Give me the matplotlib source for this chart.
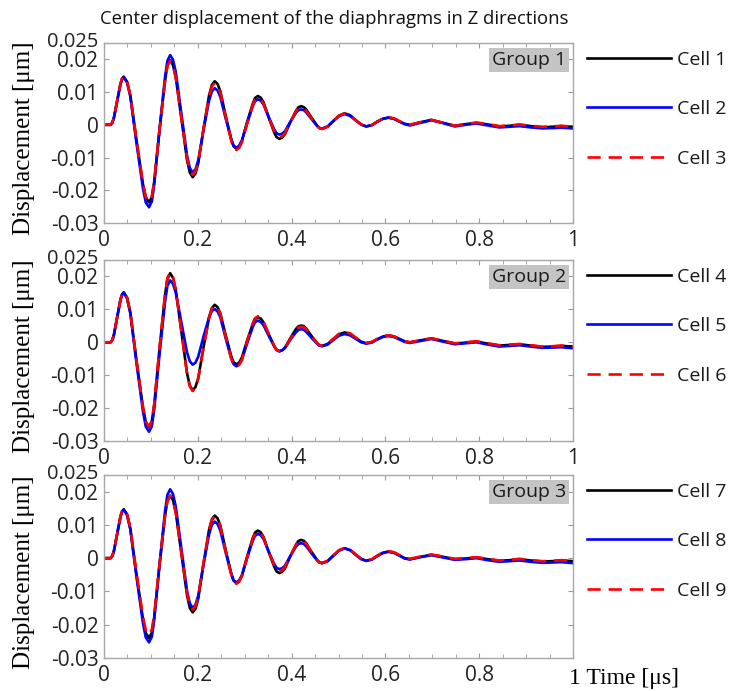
import matplotlib

matplotlib.use("Agg")
import matplotlib.pyplot as plt
from matplotlib.ticker import MultipleLocator
from matplotlib.transforms import ScaledTranslation

# time samples [us] (common to all cells)
time_us = [0, 0.014, 0.0175, 0.021, 0.028, 0.035, 0.0385, 0.042,
           0.049, 0.056, 0.069, 0.083, 0.089, 0.096,
           0.102, 0.107, 0.118, 0.130, 0.135, 0.141,
           0.147, 0.153, 0.165, 0.177, 0.183, 0.189,
           0.195, 0.201, 0.212, 0.224, 0.230, 0.236,
           0.242, 0.248, 0.259, 0.271, 0.276, 0.282,
           0.288, 0.294, 0.305, 0.317, 0.322, 0.328,
           0.334, 0.340, 0.351, 0.363, 0.368, 0.374,
           0.380, 0.386, 0.397, 0.409, 0.414, 0.420,
           0.426, 0.431, 0.442, 0.454, 0.459, 0.465,
           0.477, 0.489, 0.501, 0.513,
           0.525, 0.536, 0.548, 0.559,
           0.571, 0.582, 0.594, 0.606,
           0.618, 0.629, 0.641, 0.652,
           0.675, 0.698, 0.723, 0.748, 0.771, 0.794, 0.818, 0.843,
           0.865, 0.886, 0.910, 0.935, 0.955, 0.975, 1.000]

# centre displacement [um]
cell1 = [0, 0, .0006, .0021, .0073, .0125, .0141, .0147,
         .0132, .0091, -.0045, -.0181, -.0222, -.0237,
         -.0221, -.0174, -.0020, .0134, .0181, .0197,
         .0183, .0145, .0019, -.0108, -.0146, -.0160,
         -.0149, -.0117, -.0014, .0090, .0122, .0133,
         .0125, .0103, .0030, -.0043, -.0065, -.0073,
         -.0067, -.0049, .0008, .0064, .0082, .0088,
         .0083, .0069, .0023, -.0024, -.0038, -.0043,
         -.0039, -.0028, .0007, .0042, .0053, .0057,
         .0054, .0047, .0023, -.0002, -.0009, -.0012,
         -.0005, .0012, .0028, .0035,
         .0029, .0015, .0001, -.0005,
         -.0001, .0009, .0018, .0022,
         .0019, .0011, .0003, .0000,
         .0008, .0015, .0006, -.0003, .0002, .0006, .0001, -.0005,
         -.0003, .0000, -.0004, -.0008, -.0006, -.0004, -.0007]
cell2 = [0, 0, .0006, .0021, .0072, .0123, .0139, .0145,
         .0130, .0087, -.0054, -.0194, -.0237, -.0252,
         -.0234, -.0184, -.0020, .0145, .0195, .0213,
         .0199, .0161, .0034, -.0094, -.0132, -.0146,
         -.0136, -.0108, -.0017, .0074, .0102, .0112,
         .0105, .0085, .0021, -.0043, -.0063, -.0070,
         -.0064, -.0048, .0004, .0056, .0072, .0078,
         .0074, .0062, .0024, -.0014, -.0026, -.0030,
         -.0027, -.0019, .0009, .0036, .0044, .0047,
         .0045, .0038, .0018, -.0003, -.0010, -.0012,
         -.0005, .0011, .0026, .0033,
         .0027, .0014, .0001, -.0005,
         -.0001, .0009, .0018, .0022,
         .0018, .0010, .0002, -.0002,
         .0006, .0014, .0005, -.0005, .0000, .0004, -.0002, -.0008,
         -.0006, -.0004, -.0008, -.0011, -.0010, -.0009, -.0011]
cell3 = [0, 0, .0006, .0021, .0073, .0125, .0141, .0147,
         .0132, .0091, -.0044, -.0179, -.0220, -.0235,
         -.0219, -.0172, -.0020, .0132, .0179, .0195,
         .0182, .0144, .0021, -.0102, -.0140, -.0153,
         -.0142, -.0112, -.0013, .0087, .0117, .0128,
         .0120, .0098, .0026, -.0047, -.0069, -.0077,
         -.0071, -.0054, .0003, .0060, .0077, .0083,
         .0078, .0065, .0023, -.0020, -.0033, -.0038,
         -.0035, -.0025, .0008, .0040, .0050, .0053,
         .0050, .0043, .0020, -.0003, -.0010, -.0013,
         -.0006, .0011, .0028, .0035,
         .0029, .0015, .0001, -.0005,
         -.0001, .0009, .0019, .0023,
         .0020, .0012, .0003, .0000,
         .0008, .0015, .0006, -.0003, .0002, .0007, .0002, -.0004,
         -.0002, .0001, -.0003, -.0006, -.0005, -.0003, -.0006]
cell4 = [0, 0, .0006, .0022, .0076, .0130, .0146, .0152,
         .0136, .0092, -.0053, -.0198, -.0242, -.0258,
         -.0240, -.0190, -.0024, .0142, .0192, .0210,
         .0196, .0158, .0032, -.0094, -.0132, -.0146,
         -.0136, -.0108, -.0016, .0076, .0104, .0114,
         .0107, .0088, .0024, -.0041, -.0060, -.0067,
         -.0062, -.0046, .0005, .0055, .0071, .0076,
         .0072, .0061, .0025, -.0012, -.0023, -.0027,
         -.0024, -.0016, .0012, .0040, .0048, .0051,
         .0049, .0042, .0020, -.0002, -.0009, -.0011,
         -.0005, .0010, .0024, .0030,
         .0025, .0014, .0002, -.0003,
         .0001, .0009, .0017, .0021,
         .0018, .0011, .0003, .0000,
         .0006, .0012, .0004, -.0004, -.0001, .0002, -.0004, -.0010,
         -.0008, -.0006, -.0010, -.0014, -.0013, -.0011, -.0013]
cell5 = [0, 0, .0006, .0022, .0075, .0128, .0144, .0150,
         .0134, .0088, -.0061, -.0210, -.0256, -.0272,
         -.0255, -.0205, -.0042, .0121, .0171, .0188,
         .0178, .0151, .0060, -.0031, -.0058, -.0068,
         -.0062, -.0043, .0017, .0076, .0095, .0101,
         .0094, .0076, .0014, -.0048, -.0066, -.0073,
         -.0068, -.0053, -.0004, .0046, .0061, .0066,
         .0062, .0052, .0020, -.0013, -.0023, -.0027,
         -.0024, -.0017, .0007, .0030, .0037, .0040,
         .0038, .0032, .0014, -.0004, -.0010, -.0012,
         -.0007, .0007, .0020, .0025,
         .0021, .0011, .0000, -.0004,
         -.0001, .0008, .0016, .0019,
         .0016, .0009, .0001, -.0002,
         .0004, .0010, .0002, -.0006, -.0003, .0000, -.0007, -.0013,
         -.0011, -.0009, -.0013, -.0017, -.0016, -.0015, -.0018]
cell6 = [0, 0, .0006, .0022, .0076, .0130, .0146, .0152,
         .0136, .0092, -.0053, -.0197, -.0241, -.0257,
         -.0239, -.0188, -.0022, .0144, .0195, .0213,
         .0199, .0160, .0033, -.0095, -.0134, -.0148,
         -.0138, -.0110, -.0018, .0074, .0102, .0112,
         .0105, .0085, .0019, -.0048, -.0068, -.0075,
         -.0069, -.0053, .0002, .0057, .0073, .0079,
         .0075, .0063, .0026, -.0012, -.0024, -.0028,
         -.0025, -.0017, .0010, .0037, .0045, .0048,
         .0046, .0040, .0019, -.0002, -.0008, -.0010,
         -.0004, .0011, .0026, .0032,
         .0027, .0015, .0003, -.0002,
         .0001, .0010, .0018, .0021,
         .0018, .0011, .0003, .0000,
         .0006, .0012, .0005, -.0003, .0000, .0003, -.0003, -.0009,
         -.0007, -.0005, -.0009, -.0013, -.0012, -.0010, -.0012]
cell7 = [0, 0, .0006, .0021, .0073, .0125, .0141, .0147,
         .0132, .0090, -.0047, -.0183, -.0225, -.0240,
         -.0224, -.0178, -.0026, .0126, .0172, .0188,
         .0175, .0137, .0013, -.0112, -.0150, -.0163,
         -.0152, -.0121, -.0018, .0086, .0117, .0128,
         .0120, .0098, .0027, -.0045, -.0067, -.0075,
         -.0069, -.0052, .0004, .0060, .0077, .0083,
         .0078, .0064, .0019, -.0026, -.0040, -.0045,
         -.0041, -.0030, .0005, .0040, .0051, .0055,
         .0052, .0045, .0020, -.0005, -.0012, -.0015,
         -.0008, .0008, .0023, .0030,
         .0024, .0011, -.0002, -.0008,
         -.0004, .0006, .0016, .0020,
         .0017, .0009, .0000, -.0003,
         .0004, .0010, .0004, -.0003, -.0001, .0002, -.0003, -.0008,
         -.0006, -.0003, -.0007, -.0010, -.0009, -.0007, -.0009]
cell8 = [0, 0, .0006, .0021, .0072, .0123, .0139, .0145,
         .0130, .0087, -.0054, -.0195, -.0238, -.0253,
         -.0236, -.0186, -.0023, .0140, .0190, .0207,
         .0193, .0155, .0029, -.0098, -.0136, -.0150,
         -.0140, -.0112, -.0020, .0072, .0100, .0110,
         .0103, .0083, .0019, -.0046, -.0066, -.0073,
         -.0067, -.0052, .0000, .0052, .0067, .0073,
         .0069, .0058, .0020, -.0018, -.0029, -.0033,
         -.0030, -.0022, .0006, .0034, .0042, .0045,
         .0043, .0036, .0015, -.0006, -.0013, -.0015,
         -.0009, .0007, .0023, .0029,
         .0024, .0011, -.0003, -.0008,
         -.0004, .0006, .0015, .0019,
         .0016, .0008, -.0001, -.0004,
         .0003, .0009, .0002, -.0005, -.0003, .0000, -.0006, -.0011,
         -.0009, -.0007, -.0011, -.0014, -.0013, -.0012, -.0015]
cell9 = [0, 0, .0006, .0021, .0073, .0125, .0141, .0147,
         .0133, .0092, -.0042, -.0175, -.0216, -.0230,
         -.0214, -.0169, -.0022, .0126, .0171, .0187,
         .0174, .0137, .0016, -.0105, -.0142, -.0155,
         -.0144, -.0114, -.0015, .0084, .0114, .0125,
         .0117, .0096, .0024, -.0048, -.0069, -.0077,
         -.0071, -.0054, .0002, .0057, .0074, .0080,
         .0075, .0062, .0020, -.0022, -.0035, -.0040,
         -.0036, -.0026, .0007, .0039, .0049, .0053,
         .0050, .0043, .0019, -.0005, -.0012, -.0015,
         -.0008, .0008, .0024, .0031,
         .0025, .0012, -.0001, -.0007,
         -.0003, .0007, .0017, .0021,
         .0018, .0010, .0001, -.0002,
         .0005, .0011, .0005, -.0002, .0000, .0003, -.0002, -.0007,
         -.0005, -.0002, -.0006, -.0009, -.0008, -.0006, -.0008]

groups = ["Group 1", "Group 2", "Group 3"]
group_cells = [[cell1, cell2, cell3], [cell4, cell5, cell6], [cell7, cell8, cell9]]
cell_names = [["Cell 1", "Cell 2", "Cell 3"],
              ["Cell 4", "Cell 5", "Cell 6"],
              ["Cell 7", "Cell 8", "Cell 9"]]

x_ticks = [0, 0.2, 0.4, 0.6, 0.8, 1]
x_labels = ["0", "0.2", "0.4", "0.6", "0.8", "1"]
y_ticks = [-0.03, -0.02, -0.01, 0, 0.01, 0.02, 0.025]
y_labels = ["-0.03", "-0.02", "-0.01", "0", "0.01", "0.02", "0.025"]

SANS = "Open Sans"
SERIF = "Liberation Serif"
styles = [dict(color="black", ls="-"),
          dict(color="#0000ff", ls="-"),
          dict(color="#ff0000", ls=(0, (5.0, 3.0)))]

fig = plt.figure(figsize=(7.31, 6.91), dpi=100)
fig.patch.set_facecolor("white")

# axes rectangles (left, bottom, width, height) in figure fraction
rects = [(0.1423, 0.6773, 0.6416, 0.2605),
         (0.1423, 0.3618, 0.6416, 0.2619),
         (0.1423, 0.0478, 0.6416, 0.2648)]

for gi, rect in enumerate(rects):
    ax = fig.add_axes(rect)
    lines = []
    for ci in range(3):
        ln, = ax.plot(time_us, group_cells[gi][ci], lw=1.9,
                      label=cell_names[gi][ci], **styles[ci])
        lines.append(ln)
    ax.set_xlim(0, 1)
    ax.set_ylim(-0.03, 0.025)
    ax.set_xticks(x_ticks)
    # last panel: the "1" is part of the serif axis caption
    ax.set_xticklabels(x_labels if gi < 2 else x_labels[:-1] + [""])
    ax.set_yticks(y_ticks)
    ax.set_yticklabels(y_labels)
    ax.xaxis.set_minor_locator(MultipleLocator(0.05))
    ax.tick_params(which="both", direction="in", top=True, right=True,
                   color="#9a9a9a", labelsize=15, labelcolor="#222222")
    ax.tick_params(axis="x", pad=5)
    ax.tick_params(axis="y", pad=4)
    ax.tick_params(which="major", length=3.5)
    ax.tick_params(which="minor", length=3.0)
    for lab in ax.get_xticklabels() + ax.get_yticklabels():
        lab.set_fontfamily(SANS)
    # the 0.025 label sits just above 0.02, as in the original
    top_lab = ax.get_yticklabels()[-1]
    top_lab.set_fontsize(14.5)
    top_lab.set_transform(top_lab.get_transform() +
                          ScaledTranslation(0, 2.5 / 72, fig.dpi_scale_trans))
    for sp in ax.spines.values():
        sp.set_color("#a8a8a8")
        sp.set_linewidth(1.0)
    ax.set_ylabel("Displacement [μm]", fontfamily=SERIF, fontsize=18)
    ax.yaxis.set_label_coords(-0.147, 0.47)
    ax.text(0.985, 0.955, groups[gi], transform=ax.transAxes,
            ha="right", va="top", fontsize=14, fontfamily=SANS,
            color="#1a1a1a",
            bbox=dict(facecolor="#c4c4c4", edgecolor="none", pad=2.2))
    leg = ax.legend(handles=lines, loc="upper left",
                    bbox_to_anchor=(1.014, 1.0), frameon=False,
                    handlelength=4.3, handletextpad=0.3,
                    labelspacing=1.62, borderaxespad=0.0,
                    prop={"family": SANS, "size": 14})
    for t in leg.get_texts():
        t.set_color("#1a1a1a")
    if gi == 2:
        ax.annotate("1 Time [μs]", xy=(1, 0), xycoords="axes fraction",
                    xytext=(-3, -14.5), textcoords="offset points",
                    ha="left", va="center", fontfamily=SERIF, fontsize=17)

fig.text(0.137, 0.973, "Center displacement of the diaphragms in Z directions",
         ha="left", va="center", fontsize=13.3, fontfamily=SANS,
         color="#111111")

fig.savefig("out.png", dpi=100, facecolor="white")
